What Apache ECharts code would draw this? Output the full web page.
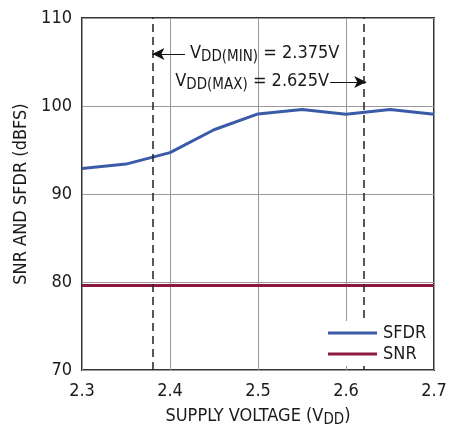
<!DOCTYPE html>
<html>
<head>
<meta charset="utf-8">
<script src="https://cdn.jsdelivr.net/npm/echarts@6/dist/echarts.min.js"></script>
<style>
  html, body { margin: 0; padding: 0; background: #fff; }
  #chart { width: 463px; height: 428px; }
</style>
</head>
<body>
<div id="chart"></div>
<script>
// supply voltage sweep (V)
const voltage = [2.3, 2.35, 2.4, 2.45, 2.5, 2.55, 2.6, 2.65, 2.7]
// dBFS values
const sfdr = [92.9, 93.4, 94.7, 97.3, 99.1, 99.6, 99.05, 99.6, 99.05]
const snr = [79.6, 79.6, 79.6, 79.6, 79.6, 79.6, 79.6, 79.6, 79.6]
// VDD limits (where the dashed lines sit)
const vddLimits = [2.38, 2.623]

const FONT = '"Liberation Sans Narrow", "DejaVu Sans Condensed", Arial, sans-serif'
const BLUE = '#3b5aa8'
const RED = '#8c1a3c'

const subRich = {
  v: {fontFamily: FONT, fontSize: 18, color: '#1a1a1a', verticalAlign: 'top', lineHeight: 20},
  s: {fontFamily: FONT, fontSize: 15, color: '#1a1a1a', verticalAlign: 'top', lineHeight: 20, padding: [6, 0, 0, 0]}
}

const chart = echarts.init(document.getElementById('chart'))

chart.setOption({
  animation: false,
  textStyle: {fontFamily: FONT},
  grid: {
    left: 82, right: 29, top: 18, bottom: 58,
    outerBoundsMode: 'none', containLabel: false,
    show: true, borderColor: '#333', borderWidth: 2
  },
  xAxis: {
    type: 'value',
    min: 2.3,
    max: 2.7,
    interval: 0.1,
    axisLine: {show: false},
    axisTick: {show: false},
    splitLine: {lineStyle: {color: '#999', width: 1}},
    axisLabel: {
      fontFamily: FONT, fontSize: 18, color: '#1a1a1a', margin: 12,
      formatter: v => v.toFixed(1)
    },
    name: '{v|SUPPLY VOLTAGE (V}{s|DD}{v|)}',
    nameLocation: 'middle',
    nameGap: 37,
    nameTextStyle: {rich: subRich, verticalAlign: 'top'}
  },
  yAxis: {
    type: 'value',
    min: 70,
    max: 110,
    interval: 10,
    axisLine: {show: false},
    axisTick: {show: false},
    splitLine: {lineStyle: {color: '#999', width: 1}},
    axisLabel: {fontFamily: FONT, fontSize: 18, color: '#1a1a1a', margin: 10},
    name: 'SNR AND SFDR (dBFS)',
    nameLocation: 'middle',
    nameGap: 46,
    nameTextStyle: {fontFamily: FONT, fontSize: 18, color: '#1a1a1a'}
  },
  legend: {
    orient: 'vertical',
    left: 324,
    top: 321,
    padding: [3, 4, 3, 4],
    itemGap: 3,
    itemWidth: 49,
    itemHeight: 3,
    icon: 'rect',
    backgroundColor: '#fff',
    z: 10,
    textStyle: {fontFamily: FONT, fontSize: 18, color: '#1a1a1a', padding: [0, 0, 0, 1]},
    data: ['SFDR', 'SNR']
  },
  series: [
    {
      name: 'SFDR',
      type: 'line',
      symbol: 'none',
      lineStyle: {width: 3, color: BLUE},
      itemStyle: {color: BLUE},
      data: voltage.map((v, i) => [v, sfdr[i]]),
      z: 3
    },
    {
      name: 'SNR',
      type: 'line',
      symbol: 'none',
      lineStyle: {width: 3, color: RED},
      itemStyle: {color: RED},
      data: voltage.map((v, i) => [v, snr[i]]),
      z: 3,
      // dashed VDD limit lines
      markLine: {
        silent: true,
        symbol: ['none', 'none'],
        label: {show: false},
        lineStyle: {color: '#222', type: [8, 5], width: 1.5},
        data: vddLimits.map(x => ({xAxis: x}))
      }
    },
    {
      // annotation arrows and texts
      type: 'line',
      data: [],
      markLine: {
        silent: true,
        symbol: ['none', 'arrow'],
        symbolSize: [9, 12],
        label: {show: false},
        lineStyle: {color: '#111', type: 'solid', width: 1.2},
        data: [
          [{coord: [2.417, 105.9]}, {coord: [vddLimits[0], 105.9]}],
          [{coord: [2.582, 102.73]}, {coord: [vddLimits[1], 102.73]}]
        ]
      },
      markPoint: {
        silent: true,
        symbol: 'circle',
        symbolSize: 0,
        data: [
          {
            coord: [2.4227, 105.9],
            label: {show: true, position: 'right', distance: 0,
              formatter: '{v|V}{s|DD(MIN)}{v| = 2.375V}', rich: subRich}
          },
          {
            coord: [2.5807, 102.73],
            label: {show: true, position: 'left', distance: 0,
              formatter: '{v|V}{s|DD(MAX)}{v| = 2.625V}', rich: subRich}
          }
        ]
      }
    }
  ]
})
</script>
</body>
</html>
